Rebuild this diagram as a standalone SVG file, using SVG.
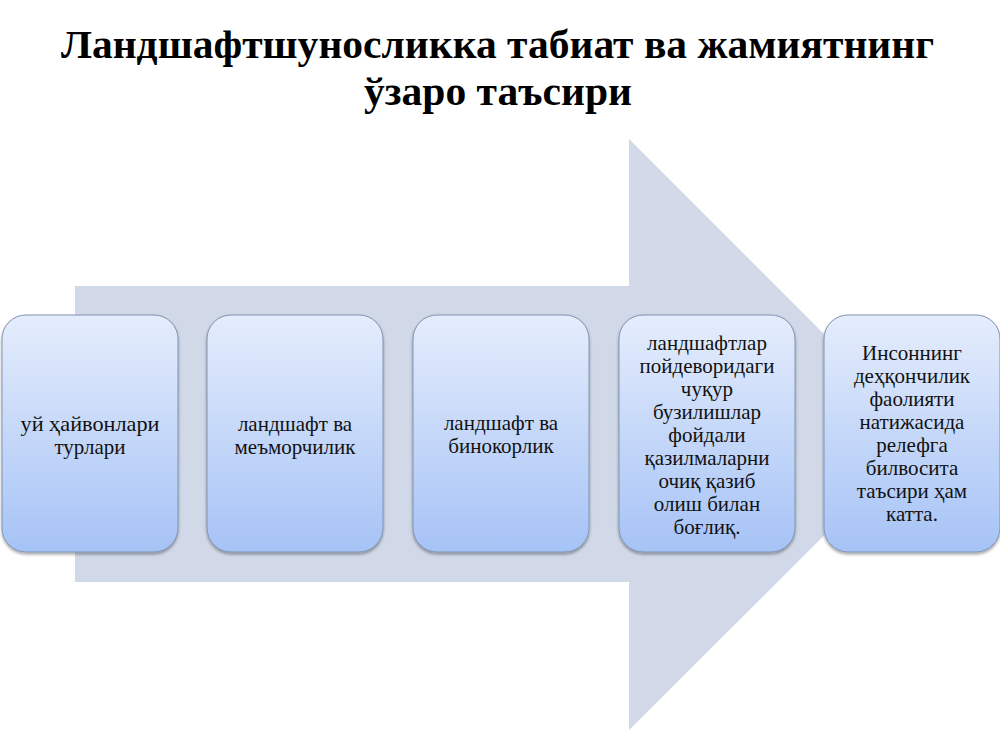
<svg xmlns="http://www.w3.org/2000/svg" width="1000" height="750" viewBox="0 0 1000 750">
  <defs>
    <linearGradient id="boxGrad" x1="0" y1="0" x2="0" y2="1">
      <stop offset="0" stop-color="#e5edfc"/>
      <stop offset="1" stop-color="#a6c3f6"/>
    </linearGradient>
    <filter id="shadow" x="-10%" y="-10%" width="120%" height="120%">
      <feDropShadow dx="0" dy="2" stdDeviation="1.5" flood-color="#000" flood-opacity="0.35"/>
    </filter>
  </defs>
  <style>
    .title { font-family: "Liberation Serif", "Times New Roman", serif; font-weight: bold; font-size: 40px; fill: #000; }
    .box { fill: url(#boxGrad); stroke: #7f93b3; stroke-width: 1; filter: url(#shadow); }
    .lbl { font-family: "Liberation Serif", "Times New Roman", serif; font-size: 21px; fill: #111; text-anchor: middle; }
  </style>
  <rect width="1000" height="750" fill="#ffffff"/>

  <g id="title">
    <text class="title" x="61" y="58" textLength="873" lengthAdjust="spacingAndGlyphs">Ландшафтшуносликка табиат ва жамиятнинг</text>
    <text class="title" x="364" y="105" textLength="268" lengthAdjust="spacingAndGlyphs">ўзаро таъсири</text>
  </g>

  <g id="connectors">
    <polygon id="big-arrow" points="75,286 629,286 629,139 925,435 629,730 629,582 75,582" fill="#d1d8e7"/>
  </g>

  <g id="node1">
    <rect class="box" x="2" y="315" width="176" height="237" rx="24" ry="24"/>
    <text class="lbl" x="90" y="431" textLength="139" lengthAdjust="spacingAndGlyphs">уй ҳайвонлари</text>
    <text class="lbl" x="90" y="454">турлари</text>
  </g>

  <g id="node2">
    <rect class="box" x="207" y="315" width="176" height="237" rx="24" ry="24"/>
    <text class="lbl" x="295" y="431">ландшафт ва</text>
    <text class="lbl" x="295" y="454">меъморчилик</text>
  </g>

  <g id="node3">
    <rect class="box" x="413" y="315" width="176" height="237" rx="24" ry="24"/>
    <text class="lbl" x="501" y="430">ландшафт ва</text>
    <text class="lbl" x="501" y="453">бинокорлик</text>
  </g>

  <g id="node4">
    <rect class="box" x="619" y="315" width="176" height="237" rx="24" ry="24"/>
    <text class="lbl" x="707" y="350">ландшафтлар</text>
    <text class="lbl" x="707" y="373">пойдеворидаги</text>
    <text class="lbl" x="707" y="396">чуқур</text>
    <text class="lbl" x="707" y="419">бузилишлар</text>
    <text class="lbl" x="707" y="442">фойдали</text>
    <text class="lbl" x="707" y="465">қазилмаларни</text>
    <text class="lbl" x="707" y="488">очиқ қазиб</text>
    <text class="lbl" x="707" y="511">олиш билан</text>
    <text class="lbl" x="707" y="534">боғлиқ.</text>
  </g>

  <g id="node5">
    <rect class="box" x="824" y="315" width="176" height="237" rx="24" ry="24"/>
    <text class="lbl" x="912" y="360">Инсоннинг</text>
    <text class="lbl" x="912" y="383">деҳқончилик</text>
    <text class="lbl" x="912" y="406">фаолияти</text>
    <text class="lbl" x="912" y="429">натижасида</text>
    <text class="lbl" x="912" y="452">релефга</text>
    <text class="lbl" x="912" y="475">билвосита</text>
    <text class="lbl" x="912" y="498">таъсири ҳам</text>
    <text class="lbl" x="912" y="521">катта.</text>
  </g>
</svg>
